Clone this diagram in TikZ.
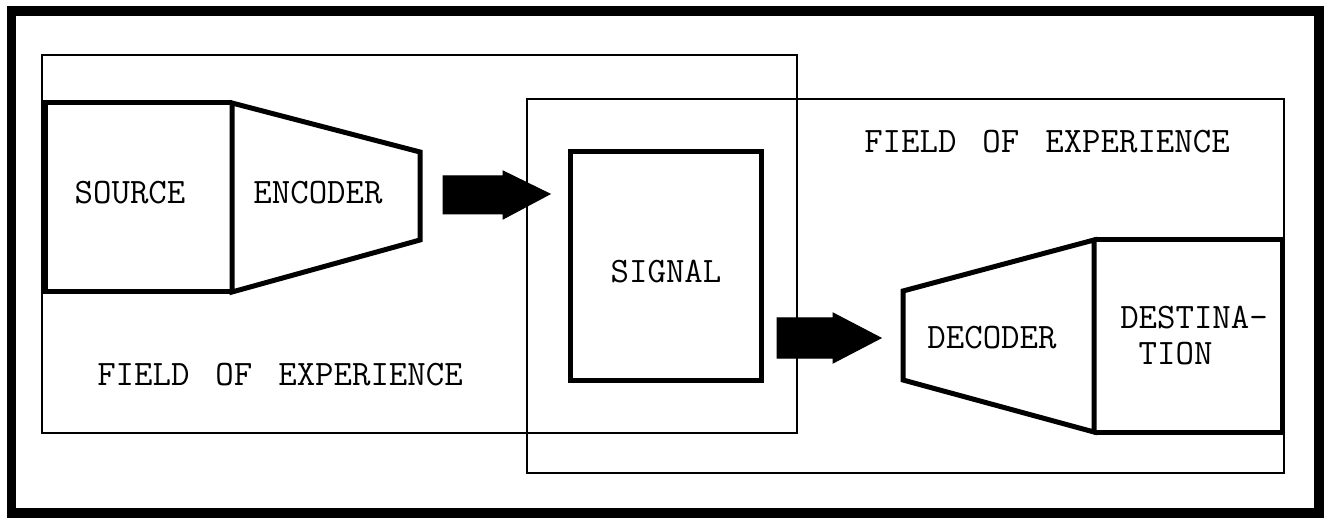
\documentclass[tikz,border=0pt]{standalone}
\usepackage{fontspec}
\newcommand{\wgap}{\hspace{26pt}}
\begin{document}
\begin{tikzpicture}[x=1pt,y=-1pt,
  frame/.style={line width=9.5pt},
  field/.style={line width=1.8pt},
  blk/.style={line width=5pt, line join=miter},
  fat/.style={fill=black, draw=black, line width=1pt, line join=miter},
  lbl/.style={font=\fontsize{35.8}{37}\selectfont\ttfamily, inner sep=0pt, align=left}]
\useasboundingbox (0,0) rectangle (1332,518);
% outer frame
\draw[frame] (11.5,11) rectangle (1319,513);
% fields of experience
\draw[field] (42,55) rectangle (797,433);
\draw[field] (527,99) rectangle (1284,473);
% source and encoder
\draw[blk] (232,103) -- (45,103) -- (45,292) -- (232,292);
\draw[blk] (232,103) -- (420,152) -- (420,240) -- (232,292) -- cycle;
\node[lbl] (source) at (130,193) {SOURCE};
\node[lbl] (encoder) at (318,193) {ENCODER};
% signal
\draw[blk] (570,152) rectangle (761,380);
\node[lbl] (signal) at (666,272) {SIGNAL};
% decoder and destination
\draw[blk] (1094,240) -- (1282,240) -- (1282,432) -- (1094,432);
\draw[blk] (903,291) -- (1094,240) -- (1094,432) -- (903,380) -- cycle;
\node[lbl] (decoder) at (992,338) {DECODER};
\node[lbl] (dest) at (1194,336) {DESTINA-\\[-1pt]\phantom{D}TION};
% labels
\node[lbl] (fl) at (280,375) {FIELD\wgap OF\wgap EXPERIENCE};
\node[lbl] (fr) at (1047,142) {FIELD\wgap OF\wgap EXPERIENCE};
% fat arrows
\draw[fat] (443,176) -- (503,176) -- (503,171) -- (550,194) -- (503,219) -- (503,214) -- (443,214) -- cycle;
\draw[fat] (777,318) -- (833,318) -- (833,313) -- (881,338) -- (833,363) -- (833,358) -- (777,358) -- cycle;
\end{tikzpicture}
\end{document}
